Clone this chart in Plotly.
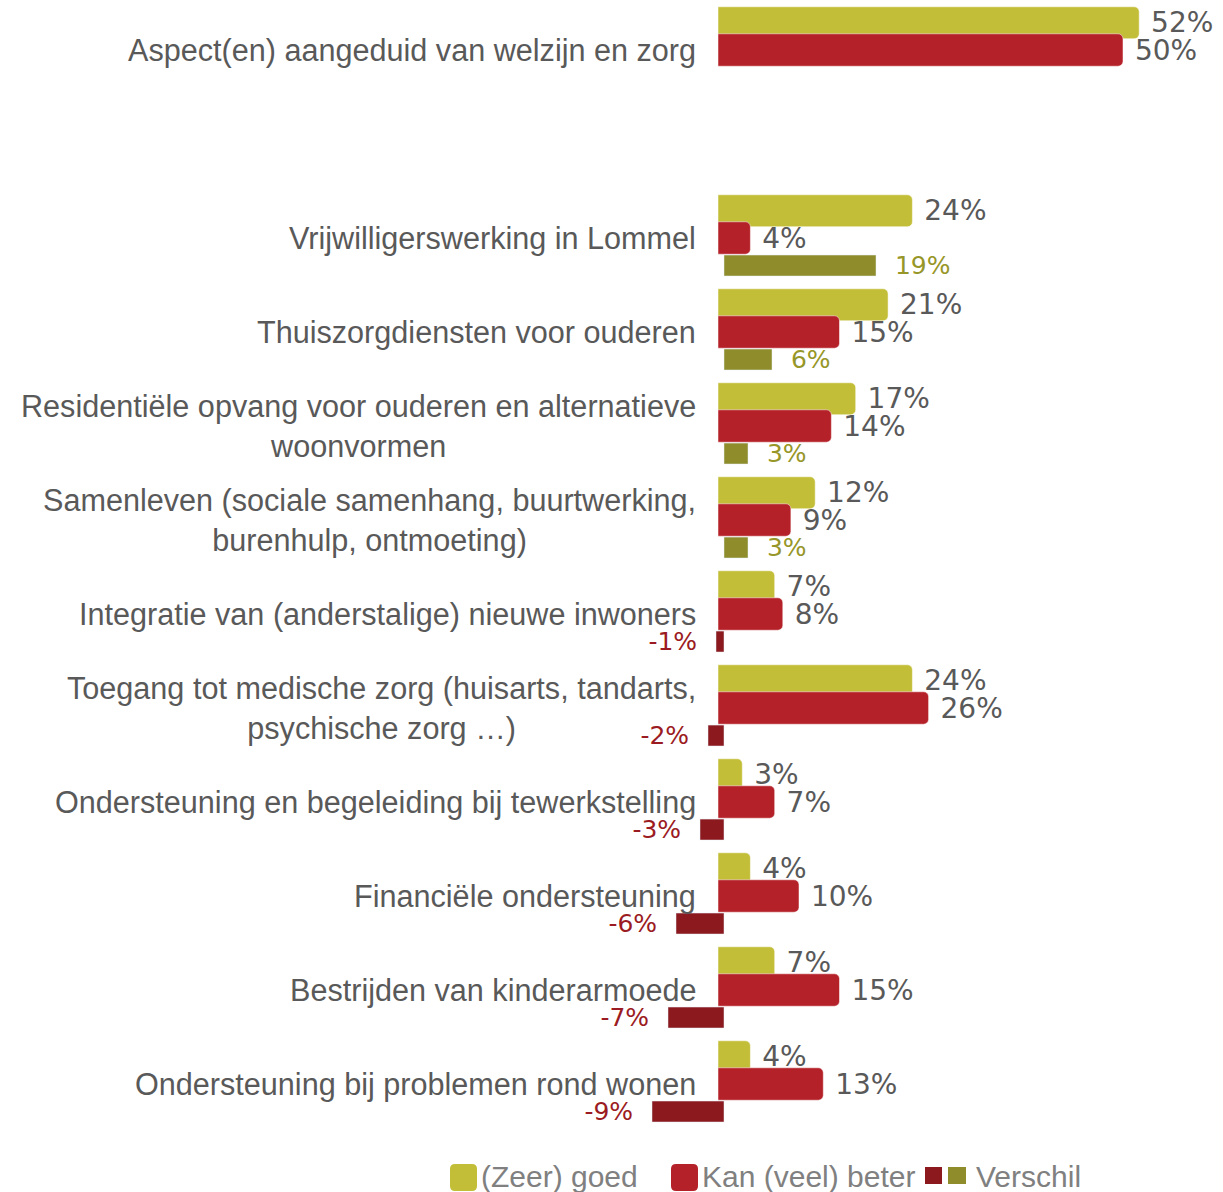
import numpy as np
import plotly.graph_objects as go

categories = [
    "Aspect(en) aangeduid van welzijn en zorg",
    "Vrijwilligerswerking in Lommel",
    "Thuiszorgdiensten voor ouderen",
    "Residentiële opvang voor ouderen en alternatieve<br>woonvormen",
    "Samenleven (sociale samenhang, buurtwerking,<br>burenhulp, ontmoeting)",
    "Integratie van (anderstalige) nieuwe inwoners",
    "Toegang tot medische zorg (huisarts, tandarts,<br>psychische zorg …)",
    "Ondersteuning en begeleiding bij tewerkstelling",
    "Financiële ondersteuning",
    "Bestrijden van kinderarmoede",
    "Ondersteuning bij problemen rond wonen",
]
goed = [52, 24, 21, 17, 12, 7, 24, 3, 4, 7, 4]
beter = [50, 4, 15, 14, 9, 8, 26, 7, 10, 15, 13]
verschil = [None, 19, 6, 3, 3, -1, -2, -3, -6, -7, -9]

legend_names = ["(Zeer) goed", "Kan (veel) beter", "Verschil"]

C_GOED = "#C3BE38"
C_BETER = "#B52129"
C_NEG = "#8B191E"
C_POS = "#8F8D2B"
T_POS = "#979628"
T_NEG = "#9B1B22"
TXT = "#595959"
LEG = "#808080"

W, H = 1223, 1192
PLOT_H = 1130
NB = "\u00a0"

idx = np.arange(len(categories))
pos = idx + (idx > 0)  # empty slot after the first category

# scales
S1 = 8.1   # px per % for goed/beter
S2 = 8.0   # px per % for verschil
Z1 = 718   # zero pixel goed/beter
Z2 = 724   # zero pixel verschil

fig = go.Figure()

fig.add_trace(go.Bar(
    orientation="h", x=goed, y=pos - 0.29, width=0.34,
    marker=dict(color=C_GOED, cornerradius=5, line=dict(color="rgba(255,255,255,0.5)", width=1)),
    text=[NB + f"{v}%" for v in goed], textposition="outside", constraintext="none",
    outsidetextfont=dict(family="DejaVu Sans", size=28, color=TXT),
    cliponaxis=False, showlegend=False, name=legend_names[0], xaxis="x", yaxis="y",
))
fig.add_trace(go.Bar(
    orientation="h", x=beter, y=pos, width=0.345,
    marker=dict(color=C_BETER, cornerradius=5, line=dict(color="rgba(255,255,255,0.5)", width=1)),
    text=[NB + f"{v}%" for v in beter], textposition="outside", constraintext="none",
    outsidetextfont=dict(family="DejaVu Sans", size=28, color=TXT),
    cliponaxis=False, showlegend=False, name=legend_names[1], xaxis="x", yaxis="y",
))

v_col = [C_POS if (v is None or v >= 0) else C_NEG for v in verschil]
v_txt = ["" if v is None else (NB * 2 + f"{v}%" if v >= 0 else f"{v}%" + NB * 2) for v in verschil]
v_tcol = [T_POS if (v is not None and v >= 0) else T_NEG for v in verschil]
fig.add_trace(go.Bar(
    orientation="h", x=verschil, y=pos + 0.293, width=0.223,
    marker=dict(color=v_col),
    text=v_txt, textposition="outside", constraintext="none",
    outsidetextfont=dict(family="DejaVu Sans", size=25, color=v_tcol),
    cliponaxis=False, showlegend=False, name=legend_names[2], xaxis="x2", yaxis="y",
))

annotations = []
for p, c in zip(pos, categories):
    annotations.append(dict(
        x=698 / W, xref="paper", xanchor="right", y=float(p), yref="y", yanchor="middle",
        text=c, showarrow=False, align="center",
        font=dict(family="Liberation Sans", size=30.6, color=TXT),
    ))


def X(px):
    return px / W


def Y(py):
    return (PLOT_H - py) / PLOT_H


def rrect(x0, y0, x1, y1, r):
    return (f"M {X(x0 + r)},{Y(y0)} L {X(x1 - r)},{Y(y0)} Q {X(x1)},{Y(y0)} {X(x1)},{Y(y0 + r)} "
            f"L {X(x1)},{Y(y1 - r)} Q {X(x1)},{Y(y1)} {X(x1 - r)},{Y(y1)} "
            f"L {X(x0 + r)},{Y(y1)} Q {X(x0)},{Y(y1)} {X(x0)},{Y(y1 - r)} "
            f"L {X(x0)},{Y(y0 + r)} Q {X(x0)},{Y(y0)} {X(x0 + r)},{Y(y0)} Z")


shapes = [
    dict(type="path", xref="paper", yref="paper", path=rrect(450, 1164, 477, 1191, 5),
         fillcolor=C_GOED, line=dict(width=0)),
    dict(type="path", xref="paper", yref="paper", path=rrect(671, 1164, 698, 1191, 5),
         fillcolor=C_BETER, line=dict(width=0)),
    dict(type="rect", xref="paper", yref="paper", x0=X(925), x1=X(942), y0=Y(1167), y1=Y(1184),
         fillcolor=C_NEG, line=dict(width=0)),
    dict(type="rect", xref="paper", yref="paper", x0=X(948), x1=X(966), y0=Y(1167), y1=Y(1184),
         fillcolor=C_POS, line=dict(width=0)),
]
for name, px in zip(legend_names, [479, 700, 974]):
    annotations.append(dict(
        x=X(px), xref="paper", xanchor="left", y=Y(1176), yref="paper", yanchor="middle",
        text=name, showarrow=False, font=dict(family="Liberation Sans", size=30, color=LEG),
    ))

fig.update_layout(
    width=W, height=H,
    margin=dict(l=0, r=0, t=0, b=H - PLOT_H, pad=0),
    paper_bgcolor="white", plot_bgcolor="white",
    barmode="overlay",
    xaxis=dict(range=[-Z1 / S1, (W - Z1) / S1], visible=False, fixedrange=True),
    xaxis2=dict(range=[-Z2 / S2, (W - Z2) / S2], overlaying="x", visible=False, fixedrange=True),
    yaxis=dict(range=[-0.532 + PLOT_H / 94, -0.532], visible=False, fixedrange=True),
    annotations=annotations,
    shapes=shapes,
)

fig.write_html(
    "out.html",
    config={"displayModeBar": False},
    post_script="document.body.style.margin='0';document.documentElement.style.overflow='hidden';",
)
